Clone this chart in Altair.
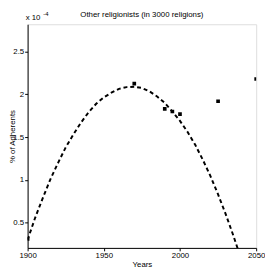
import altair as alt
import pandas as pd

# observed data points (values in units of 1e-4 %)
point_years = [1900, 1970, 1990, 1995, 2000, 2025, 2050]
point_values = [0.31, 2.125, 1.83, 1.80, 1.77, 1.92, 2.18]

# fitted dashed curve
curve_years = [1900, 1905, 1910, 1915, 1920, 1925, 1930, 1935, 1940, 1945, 1950,
               1955, 1960, 1965, 1970, 1975, 1980, 1985, 1990, 1995, 2000, 2005,
               2010, 2015, 2020, 2025, 2030, 2035, 2038]
curve_values = [0.30, 0.56, 0.79, 1.01, 1.20, 1.38, 1.53, 1.67, 1.79, 1.89, 1.965,
                2.02, 2.065, 2.085, 2.09, 2.075, 2.035, 1.975, 1.90, 1.80, 1.69, 1.56,
                1.41, 1.235, 1.045, 0.83, 0.60, 0.35, 0.19]

x_ticks = [1900, 1950, 2000, 2050]
y_ticks = [0.5, 1, 1.5, 2, 2.5]

title_text = "Other religionists (in 3000 religions)"
x_title = "Years"
y_title = "% of Adherents"

FONT = "Liberation Sans"
W, H = 233, 228

pts = pd.DataFrame({"year": point_years, "value": point_values})
crv = pd.DataFrame({"year": curve_years, "value": curve_values})

xscale = alt.Scale(domain=[1900, 2050], nice=False, zero=False)
yscale = alt.Scale(domain=[0.205, 2.82], nice=False, zero=False)

xaxis = alt.Axis(values=x_ticks, format="d", title=x_title, grid=False,
                 tickSize=3, labelPadding=1, titlePadding=1, labelFlush=False,
                 labelFont=FONT, titleFont=FONT, labelFontSize=8, titleFontSize=8,
                 titleFontWeight="normal", labelColor="black", titleColor="black",
                 domainColor="black", tickColor="black")
yaxis = alt.Axis(values=y_ticks, format="~g", title=y_title, grid=False,
                 tickSize=3, labelPadding=1, labelFlush=False,
                 titleX=-15, titleY=H / 2, titleAngle=-90, titleAlign="center",
                 titleBaseline="middle",
                 labelFont=FONT, titleFont=FONT, labelFontSize=8, titleFontSize=8,
                 titleFontWeight="normal", labelColor="black", titleColor="black",
                 domainColor="black", tickColor="black")

line = alt.Chart(crv).mark_line(color="black", strokeWidth=2, strokeDash=[4, 3], clip=True).encode(
    x=alt.X("year:Q", scale=xscale, axis=xaxis),
    y=alt.Y("value:Q", scale=yscale, axis=yaxis),
)

points = alt.Chart(pts).mark_square(color="black", opacity=1, size=14, clip=True).encode(
    x=alt.X("year:Q", scale=xscale),
    y=alt.Y("value:Q", scale=yscale),
)

base_txt = alt.Chart(pd.DataFrame({"t": ["x 10"]})).mark_text(
    font=FONT, fontSize=8, align="left", baseline="middle", color="black", dx=-2, dy=-6
).encode(text="t:N", x=alt.value(0), y=alt.value(0))

pow_txt = alt.Chart(pd.DataFrame({"t": ["-4"]})).mark_text(
    font=FONT, fontSize=6, align="left", baseline="middle", color="black", dx=16, dy=-10
).encode(text="t:N", x=alt.value(0), y=alt.value(0))

title_txt = alt.Chart(pd.DataFrame({"t": [title_text]})).mark_text(
    font=FONT, fontSize=8, align="center", baseline="middle", color="black", dy=-9
).encode(text="t:N", x=alt.value(W / 2), y=alt.value(0))

chart = alt.layer(line, points, base_txt, pow_txt, title_txt).properties(
    width=W, height=H,
    padding={"left": 20, "top": 14, "right": 9, "bottom": 22},
    autosize=alt.AutoSizeParams(type="none"),
).configure_view(stroke="black", strokeWidth=1).configure(background="white")

chart.save("out.html", embed_options={"renderer": "svg", "actions": False})
